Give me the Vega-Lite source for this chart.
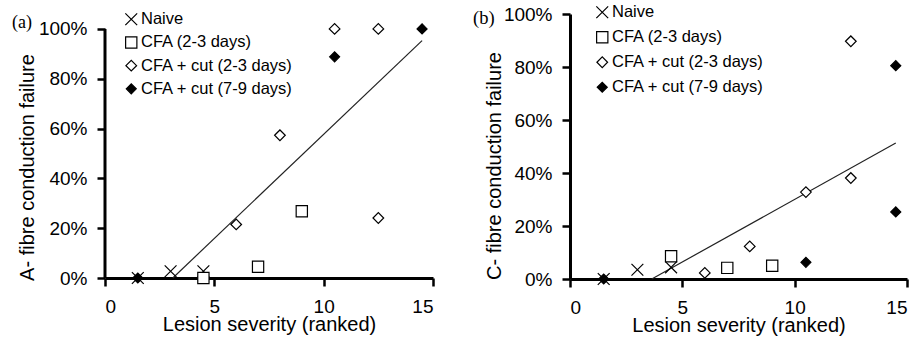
{
  "$schema": "https://vega.github.io/schema/vega-lite/v6.json",
  "padding": {"left": 12, "top": 4, "right": 4, "bottom": 4},
  "background": "white",
  "config": {
    "view": {"stroke": null},
    "font": "Liberation Sans",
    "axis": {
      "grid": false,
      "labelFont": "Liberation Sans",
      "labelFontSize": 19,
      "labelColor": "black",
      "titleFont": "Liberation Sans",
      "titleFontSize": 20,
      "titleFontWeight": "normal",
      "titleColor": "black"
    },
    "axisX": {"titlePadding": -2},
    "axisY": {"titleBaseline": "alphabetic", "titleAngle": -90},
    "legend": {
      "orient": "none",
      "labelFont": "Liberation Sans",
      "labelFontSize": 16.5,
      "labelColor": "black",
      "labelOffset": 1.5,
      "padding": 0,
      "symbolStrokeWidth": 1.2
    }
  },
  "datasets": {
    "ptsA": [
      {"x": 1.5, "y": 0, "group": "CFA + cut (7-9 days)"},
      {"x": 1.5, "y": 0, "group": "Naive"},
      {"x": 3, "y": 0.027, "group": "Naive"},
      {"x": 4.5, "y": 0.027, "group": "Naive"},
      {"x": 4.5, "y": 0, "group": "CFA (2-3 days)"},
      {"x": 7, "y": 0.045, "group": "CFA (2-3 days)"},
      {"x": 9, "y": 0.268, "group": "CFA (2-3 days)"},
      {"x": 6, "y": 0.215, "group": "CFA + cut (2-3 days)"},
      {"x": 8, "y": 0.573, "group": "CFA + cut (2-3 days)"},
      {"x": 10.5, "y": 1.0, "group": "CFA + cut (2-3 days)"},
      {"x": 12.5, "y": 1.0, "group": "CFA + cut (2-3 days)"},
      {"x": 12.5, "y": 0.241, "group": "CFA + cut (2-3 days)"},
      {"x": 10.5, "y": 0.888, "group": "CFA + cut (7-9 days)"},
      {"x": 14.5, "y": 1.0, "group": "CFA + cut (7-9 days)"}
    ],
    "ptsB": [
      {"x": 1.5, "y": 0, "group": "CFA + cut (7-9 days)"},
      {"x": 1.5, "y": 0, "group": "Naive"},
      {"x": 3, "y": 0.035, "group": "Naive"},
      {"x": 4.5, "y": 0.044, "group": "Naive"},
      {"x": 4.5, "y": 0.086, "group": "CFA (2-3 days)"},
      {"x": 7, "y": 0.042, "group": "CFA (2-3 days)"},
      {"x": 9, "y": 0.05, "group": "CFA (2-3 days)"},
      {"x": 6, "y": 0.023, "group": "CFA + cut (2-3 days)"},
      {"x": 8, "y": 0.123, "group": "CFA + cut (2-3 days)"},
      {"x": 10.5, "y": 0.328, "group": "CFA + cut (2-3 days)"},
      {"x": 12.5, "y": 0.381, "group": "CFA + cut (2-3 days)"},
      {"x": 12.5, "y": 0.897, "group": "CFA + cut (2-3 days)"},
      {"x": 10.5, "y": 0.063, "group": "CFA + cut (7-9 days)"},
      {"x": 14.5, "y": 0.253, "group": "CFA + cut (7-9 days)"},
      {"x": 14.5, "y": 0.805, "group": "CFA + cut (7-9 days)"}
    ],
    "lineA": [{"x": 3.1, "y": 0}, {"x": 14.5, "y": 0.953}],
    "lineB": [{"x": 3.64, "y": 0}, {"x": 14.5, "y": 0.513}],
    "yAxisLineA": [{"x": 0, "y": 0}, {"x": 0, "y": 1}]
  },
  "resolve": {
    "scale": {"x": "independent", "y": "independent", "shape": "independent", "fill": "independent", "size": "independent", "stroke": "independent"},
    "legend": {"shape": "independent", "fill": "independent", "size": "independent", "stroke": "independent"}
  },
  "spacing": 38,
  "hconcat": [
    {
      "width": 328,
      "height": 264,
      "title": {"text": "(a)", "orient": "top", "anchor": "start", "frame": "group", "font": "Liberation Serif", "fontSize": 18, "fontWeight": "normal", "color": "black", "baseline": "middle", "dx": -93, "dy": 30, "offset": 0},
      "layer": [
        {
          "data": {"name": "lineA"},
          "mark": {"type": "line", "color": "#222", "strokeWidth": 1.2},
          "encoding": {
            "x": {"field": "x", "type": "quantitative", "scale": {"domain": [0, 15], "nice": false}, "axis": {"title": "Lesion severity (ranked)", "values": [0, 5, 10, 15], "domain": true, "domainColor": "black", "domainWidth": 3, "ticks": true, "tickColor": "black", "tickWidth": 2.5, "tickSize": 8, "labelPadding": 11}},
            "y": {"field": "y", "type": "quantitative", "scale": {"domain": [0, 1.06], "nice": false}, "axis": {"title": "A- fibre conduction failure", "values": [0, 0.2, 0.4, 0.6, 0.8, 1], "format": ".0%", "domain": false, "ticks": true, "tickColor": "black", "tickWidth": 2.5, "tickSize": 8, "labelPadding": 10, "titleX": -72, "titleY": 153}}
          }
        },
        {
          "data": {"name": "yAxisLineA"},
          "mark": {"type": "line", "color": "black", "strokeWidth": 3, "opacity": 1},
          "encoding": {"x": {"field": "x", "type": "quantitative"}, "y": {"field": "y", "type": "quantitative"}}
        },
        {
          "data": {"name": "ptsA"},
          "mark": {"type": "point", "filled": true, "strokeWidth": 1.2, "opacity": 1},
          "encoding": {
            "x": {"field": "x", "type": "quantitative"},
            "y": {"field": "y", "type": "quantitative"},
            "shape": {"field": "group", "type": "nominal", "scale": {"domain": ["Naive", "CFA (2-3 days)", "CFA + cut (2-3 days)", "CFA + cut (7-9 days)"], "range": ["M-1,-1L1,1M-1,1L1,-1", "square", "diamond", "diamond"]}, "legend": {"title": null, "legendX": 18, "legendY": -3, "rowPadding": 6.2}},
            "fill": {"field": "group", "type": "nominal", "scale": {"domain": ["Naive", "CFA (2-3 days)", "CFA + cut (2-3 days)", "CFA + cut (7-9 days)"], "range": ["white", "white", "white", "black"]}, "legend": {"title": null, "legendX": 18, "legendY": -3, "rowPadding": 6.2}},
            "stroke": {"field": "group", "type": "nominal", "scale": {"domain": ["Naive", "CFA (2-3 days)", "CFA + cut (2-3 days)", "CFA + cut (7-9 days)"], "range": ["black", "black", "black", "black"]}, "legend": {"title": null, "legendX": 18, "legendY": -3, "rowPadding": 6.2}},
            "size": {"field": "group", "type": "nominal", "scale": {"domain": ["Naive", "CFA (2-3 days)", "CFA + cut (2-3 days)", "CFA + cut (7-9 days)"], "range": [140, 100, 132, 150]}, "legend": {"title": null, "legendX": 18, "legendY": -3, "rowPadding": 6.2}}
          }
        }
      ]
    },
    {
      "width": 337,
      "height": 265,
      "title": {"text": "(b)", "orient": "top", "anchor": "start", "frame": "group", "font": "Liberation Serif", "fontSize": 18.5, "fontWeight": "normal", "color": "black", "baseline": "middle", "dx": -97, "dy": 32.5, "offset": 0},
      "layer": [
        {
          "data": {"name": "lineB"},
          "mark": {"type": "line", "color": "#222", "strokeWidth": 1.2},
          "encoding": {
            "x": {"field": "x", "type": "quantitative", "scale": {"domain": [0, 15], "nice": false}, "axis": {"title": "Lesion severity (ranked)", "values": [0, 5, 10, 15], "domain": true, "domainColor": "black", "domainWidth": 3, "ticks": true, "tickColor": "black", "tickWidth": 2.5, "tickSize": 8, "labelPadding": 11}},
            "y": {"field": "y", "type": "quantitative", "scale": {"domain": [0, 1], "nice": false}, "axis": {"title": "C- fibre conduction failure", "values": [0, 0.2, 0.4, 0.6, 0.8, 1], "format": ".0%", "domain": true, "domainColor": "black", "domainWidth": 3, "ticks": true, "tickColor": "black", "tickWidth": 2.5, "tickSize": 8, "labelPadding": 10, "titleX": -70, "titleY": 151.5}}
          }
        },
        {
          "data": {"name": "ptsB"},
          "mark": {"type": "point", "filled": true, "strokeWidth": 1.2, "opacity": 1},
          "encoding": {
            "x": {"field": "x", "type": "quantitative"},
            "y": {"field": "y", "type": "quantitative"},
            "shape": {"field": "group", "type": "nominal", "scale": {"domain": ["Naive", "CFA (2-3 days)", "CFA + cut (2-3 days)", "CFA + cut (7-9 days)"], "range": ["M-1,-1L1,1M-1,1L1,-1", "square", "diamond", "diamond"]}, "legend": {"title": null, "legendX": 24, "legendY": -10, "rowPadding": 8}},
            "fill": {"field": "group", "type": "nominal", "scale": {"domain": ["Naive", "CFA (2-3 days)", "CFA + cut (2-3 days)", "CFA + cut (7-9 days)"], "range": ["white", "white", "white", "black"]}, "legend": {"title": null, "legendX": 24, "legendY": -10, "rowPadding": 8}},
            "stroke": {"field": "group", "type": "nominal", "scale": {"domain": ["Naive", "CFA (2-3 days)", "CFA + cut (2-3 days)", "CFA + cut (7-9 days)"], "range": ["black", "black", "black", "black"]}, "legend": {"title": null, "legendX": 24, "legendY": -10, "rowPadding": 8}},
            "size": {"field": "group", "type": "nominal", "scale": {"domain": ["Naive", "CFA (2-3 days)", "CFA + cut (2-3 days)", "CFA + cut (7-9 days)"], "range": [140, 100, 132, 150]}, "legend": {"title": null, "legendX": 24, "legendY": -10, "rowPadding": 8}}
          }
        }
      ]
    }
  ]
}
